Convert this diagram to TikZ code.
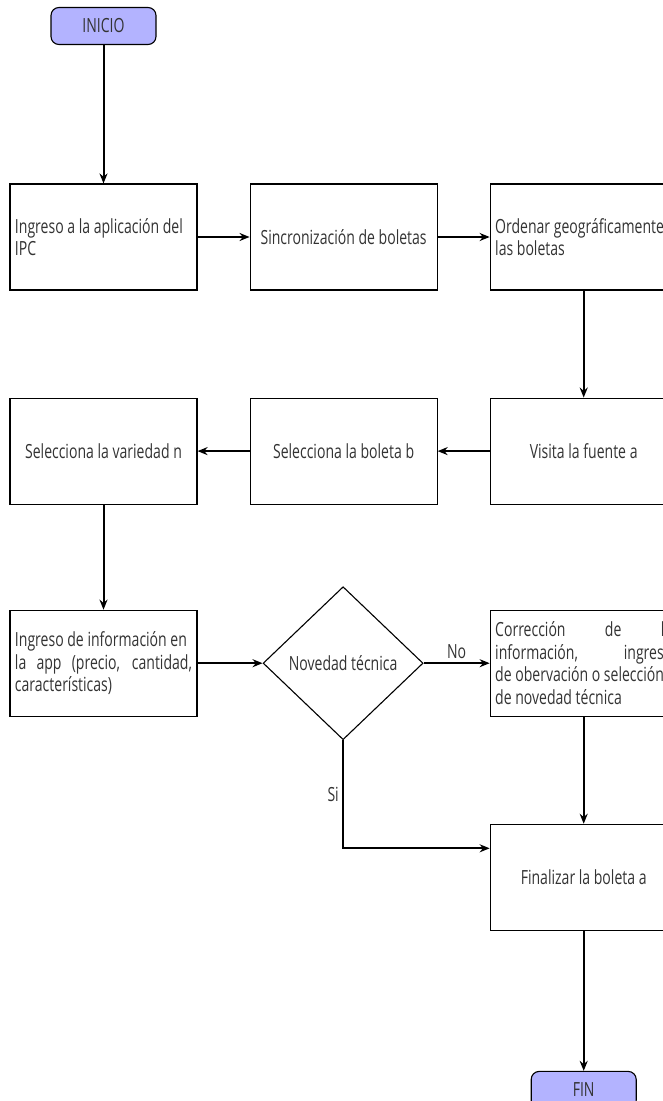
\documentclass[tikz,border=0pt]{standalone}
\usepackage{fontspec}
\setmainfont{Open Sans}[FakeStretch=0.72]
\usetikzlibrary{shapes.geometric,arrows.meta,positioning}
\definecolor{termfill}{RGB}{179,179,255}
\definecolor{txtgray}{RGB}{51,51,51}

\begin{document}
\begin{tikzpicture}[
        x=1pt, y=1pt,
        >={Stealth[length=10pt,width=8pt]},
        every node/.style={font=\fontsize{19.5}{22.5}\selectfont, text=txtgray},
        box/.style={draw, line width=1.1pt, minimum width=187pt, minimum height=106pt, inner xsep=5pt},
        para/.style={text width=177pt, align=justify},
        term/.style={draw, line width=1.1pt, fill=termfill, rounded corners=8pt,
                     minimum width=105pt, minimum height=37pt},
        decision/.style={draw, diamond, line width=1.1pt, inner sep=0pt,
                         minimum width=160pt, minimum height=153pt},
        conn/.style={->, line width=2pt},
        node distance=107pt and 52pt
        ]
        \useasboundingbox (0,0) rectangle (663,-1101);
        \clip (0,0) rectangle (663,-1101);

        % Nodes
        \node[term] (inicio) at (103.5,-26) {INICIO};
        \node[box, para] (ingreso) at (103.5,-237) {Ingreso a la aplicación del\\IPC};
        \node[box] (sincro)    [right=of ingreso]  {Sincronización de boletas};
        \node[box, para] (ordenar) [right=of sincro] {\mbox{Ordenar geográficamente}\\las boletas};
        \node[box] (visita)    [below=of ordenar]  {Visita la fuente a};
        \node[box] (boleta)    [left=of visita]    {Selecciona la boleta b};
        \node[box] (variedad)  [left=of boleta]    {Selecciona la variedad n};
        \node[box, para] (app) [below=105pt of variedad] {Ingreso de información en\\la app (precio, cantidad,\linebreak características)};
        \node[decision] (novedad) [right=65pt of app] {Novedad técnica};
        \node[box, para] (correccion) [below=105pt of visita] {Corrección de la\linebreak información, ingreso\linebreak \mbox{de obervación o selección}\\de novedad técnica};
        \node[box] (finalizar) [below=of correccion] {Finalizar la boleta a};
        \node[term] (fin)      [below=140pt of finalizar] {FIN};

        % Connectors
        \draw[conn] (inicio)     -- (ingreso);
        \draw[conn] (ingreso)    -- (sincro);
        \draw[conn] (sincro)     -- (ordenar);
        \draw[conn] (ordenar)    -- (visita);
        \draw[conn] (visita)     -- (boleta);
        \draw[conn] (boleta)     -- (variedad);
        \draw[conn] (variedad)   -- (app);
        \draw[conn] (app)        -- (novedad);
        \draw[conn] (novedad)    -- node[above] {No} (correccion);
        \draw[conn] (novedad.south) |- node[left, pos=0.25] {Si} ([yshift=29pt]finalizar.west);
        \draw[conn] (correccion) -- (finalizar);
        \draw[conn] (finalizar)  -- (fin);
      \end{tikzpicture}
\end{document}
